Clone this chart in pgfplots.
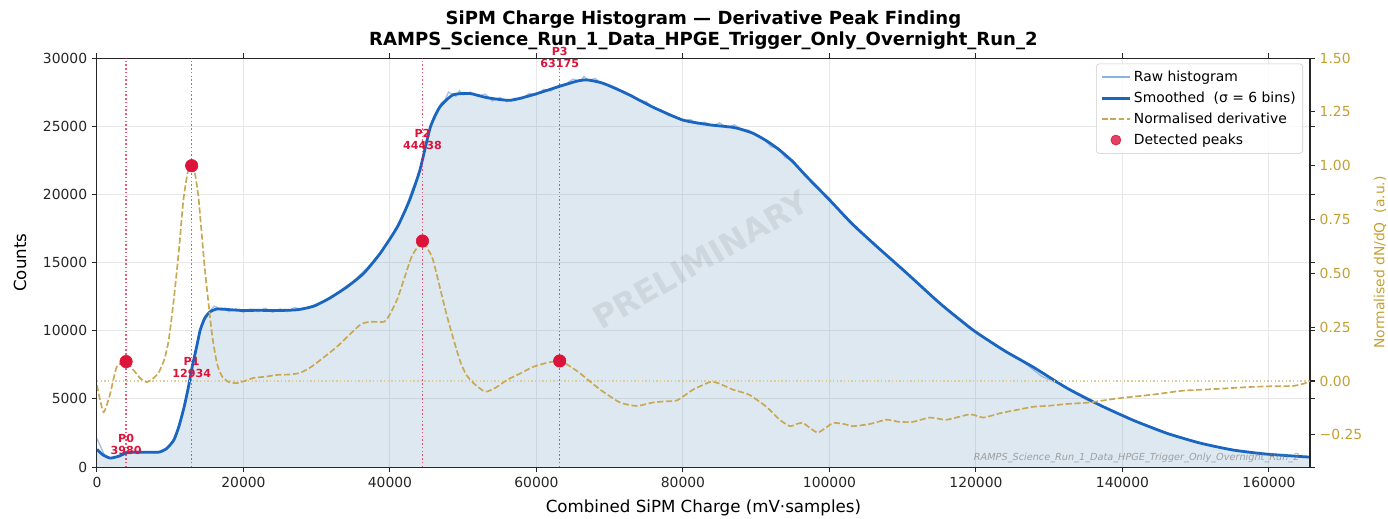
\documentclass[border=0pt]{standalone}
\usepackage{fontspec}
\setmainfont{DejaVu Sans}
\usepackage{pgfplots}
\usepackage{pgfplotstable}
\pgfplotsset{compat=1.18}

\definecolor{smoothblue}{RGB}{25,101,192}
\definecolor{rawblue}{RGB}{140,178,224}
\definecolor{histfill}{RGB}{70,130,180}
\definecolor{deriv}{RGB}{200,168,80}
\definecolor{derivtxt}{RGB}{196,160,50}
\definecolor{peak}{RGB}{220,20,60}

% smoothed histogram (counts)
\pgfplotstableread{
x y
0 1300
800 900
1800 660
3000 800
4100 1050
5500 1100
7000 1080
8500 1100
9500 1350
10500 1980
11200 3000
11900 4400
12500 5900
13000 7340
13600 8800
14100 10050
14700 10900
15400 11370
16400 11600
18000 11550
20000 11480
22000 11500
24000 11480
26000 11500
27500 11550
29600 11800
31800 12400
34100 13200
36400 14200
38700 15700
41000 17600
42700 19600
44100 21800
45500 24900
46800 26400
48600 27300
50900 27400
53200 27100
56400 26900
59500 27300
63000 27900
65500 28300
66900 28400
69100 28150
72300 27400
75900 26400
80000 25450
83700 25100
87000 24900
89500 24500
91500 23900
93200 23250
95000 22400
96900 21300
100000 19600
103000 17900
106000 16400
110600 14200
115100 12000
119600 10050
124000 8500
127800 7340
132400 5800
136900 4550
141400 3450
146000 2490
150600 1760
155100 1250
159700 950
165600 730
}\smoothtab

% raw histogram (counts)
\pgfplotstableread{
x y
0 2100
500 1500
1000 900
1500 700
2000 620
2500 700
3000 850
3500 950
4000 1000
5000 1150
6000 1050
7000 1100
8000 1050
9000 1150
9500 1400
10000 1600
10500 2100
11000 2700
11500 3600
12000 4600
12500 5800
13000 7500
13500 8500
14000 9900
14500 10600
15000 11100
15500 11500
16000 11800
16500 11700
17000 11500
17500 11650
18000 11400
19000 11600
20000 11350
21000 11600
22000 11400
23000 11650
24000 11350
25000 11600
26000 11400
27000 11700
28000 11550
29000 11750
30000 11950
31000 12150
32000 12500
33000 12800
34000 13250
35000 13600
36000 14150
37000 14650
38000 15250
39000 15950
40000 16700
41000 17700
42000 18700
43000 20300
44000 21600
45000 23900
46000 25700
47000 26700
47500 26900
48000 27500
49000 27200
49500 27600
50000 27300
51000 27500
52000 27200
53000 27350
54000 26850
55000 27100
56000 26800
57000 27050
58000 27000
59000 27400
60000 27300
61000 27700
62000 27600
63000 28000
64000 28100
65000 28450
66000 28300
66500 28650
67000 28350
68000 28500
69000 28100
70000 28000
71000 27800
72000 27400
73000 27300
74000 26900
75000 26800
76000 26300
77000 26200
78000 25800
79000 25700
80000 25400
81000 25500
82000 25150
83000 25300
84000 25000
85000 25250
86000 24900
87000 25100
88000 24800
89000 24700
90000 24300
91000 24100
92000 23500
93000 23400
94000 22700
95000 22500
96000 21800
97000 21300
98000 20700
99000 20200
100000 19700
102000 18350
104000 17300
106000 16450
108000 15400
110000 14550
112000 13500
114000 12550
116000 11600
118000 10800
120000 9900
123000 8800
126000 7900
129000 6650
132000 5950
135000 4950
138000 4300
141000 3500
144000 2950
147000 2300
150000 1850
153000 1450
156000 1200
159000 980
162000 850
165600 700
}\rawtab

% normalised derivative
\pgfplotstableread{
x y
0 -0.02
900 -0.145
1800 -0.06
2700 0.065
3980 0.09
5000 0.05
6000 0.01
6800 -0.005
7600 0.01
8400 0.037
9200 0.10
9800 0.19
10500 0.38
11200 0.61
11800 0.84
12400 0.97
12934 1.0
13400 0.96
13900 0.84
14700 0.53
15700 0.22
16400 0.08
17100 0.02
18000 -0.005
19100 -0.01
20200 0.0
21400 0.014
23000 0.02
24600 0.028
26200 0.03
27700 0.037
29000 0.06
30000 0.084
32800 0.16
35900 0.26
37300 0.275
39200 0.275
40000 0.31
41000 0.38
41900 0.47
43000 0.58
44438 0.65
45200 0.61
45900 0.56
47800 0.30
49500 0.10
50400 0.03
51400 -0.01
53000 -0.05
54500 -0.03
56000 0.005
57800 0.035
59500 0.065
61500 0.085
63175 0.093
64500 0.07
65900 0.037
68700 -0.04
71400 -0.10
73700 -0.116
75900 -0.10
77500 -0.095
79200 -0.09
81400 -0.04
83700 -0.005
84800 -0.01
86800 -0.04
87800 -0.05
89100 -0.065
91400 -0.12
93200 -0.18
94600 -0.21
95500 -0.20
96400 -0.195
97400 -0.22
98400 -0.24
99400 -0.22
100500 -0.195
102000 -0.20
103200 -0.21
105500 -0.20
107800 -0.18
109500 -0.19
111400 -0.19
113700 -0.17
116000 -0.18
119200 -0.155
121000 -0.17
123300 -0.15
125500 -0.135
127800 -0.12
130000 -0.115
132400 -0.107
135500 -0.10
137500 -0.09
139600 -0.08
143700 -0.065
146000 -0.055
148300 -0.045
152900 -0.037
157400 -0.028
160000 -0.025
163300 -0.023
165000 -0.01
165600 0.0
}\derivtab

% detected peaks (x, derivative value)
\pgfplotstableread{
x y
3980 0.09
12934 1.0
44438 0.65
63175 0.093
}\peaktab

\pgfplotsset{
  legend image code/.code={\draw[mark repeat=2,mark phase=2,#1] plot coordinates {(0pt,0pt) (10pt,0pt) (20pt,0pt)};},
}

\begin{document}
\begin{tikzpicture}
\begin{axis}[
    scale only axis, width=873.4pt, height=294.5pt,
    xmin=0, xmax=165600, ymin=0, ymax=30000,
    xtick={0,20000,...,160000},
    ytick={0,5000,...,30000},
    scaled ticks=false,
    /pgf/number format/fixed,
    /pgf/number format/set thousands separator={},
    /pgf/number format/assume math mode=true,
    tick align=outside, major tick length=3.5pt,
    tick style={black!85, line width=0.8pt},
    axis line style={black!85, line width=0.8pt},
    grid=major, grid style={black!9, line width=0.8pt},
    tick label style={font=\fontsize{10}{12}\selectfont, black!85},
    clip mode=individual,
]
\addplot[draw=none, fill=histfill, fill opacity=0.18, smooth, tension=0.35, forget plot] table {\smoothtab} \closedcycle;
\addplot[rawblue, line width=1pt, opacity=0.8, forget plot] table {\rawtab};
\addplot[smoothblue, line width=2pt, line join=round, smooth, tension=0.35, forget plot] table {\smoothtab};

% vertical markers at detected peaks
\addplot[peak, line width=1.1pt, dash pattern=on 1.1pt off 1.6pt, opacity=0.7, forget plot] coordinates {(3980,0) (3980,30000)};
\addplot[peak, line width=1.1pt, dash pattern=on 1.1pt off 1.6pt, opacity=0.7, forget plot] coordinates {(12934,0) (12934,30000)};
\addplot[peak, line width=1.1pt, dash pattern=on 1.1pt off 1.6pt, opacity=0.7, forget plot] coordinates {(44438,0) (44438,30000)};
\addplot[peak, line width=1.1pt, dash pattern=on 1.1pt off 1.6pt, opacity=0.7, forget plot] coordinates {(63175,0) (63175,30000)};

\node[peak, align=center, font=\bfseries\fontsize{8}{8.6}\selectfont] at (axis cs:3980,1690) {P0\\3980};
\node[peak, align=center, font=\bfseries\fontsize{8}{8.6}\selectfont] at (axis cs:12934,7335) {P1\\12934};
\node[peak, align=center, font=\bfseries\fontsize{8}{8.6}\selectfont] at (axis cs:44438,24060) {P2\\44438};
\node[peak, align=center, font=\bfseries\fontsize{8}{8.6}\selectfont] at (axis cs:63175,30070) {P3\\63175};

% watermark and run tag
\node[rotate=30, font=\bfseries\fontsize{23}{23}\selectfont, text=gray, opacity=0.17] at (axis cs:82450,15180) {PRELIMINARY};
\node[anchor=base east, font=\itshape\fontsize{7}{8}\selectfont, text=gray, opacity=0.7] at ([xshift=-4pt,yshift=5pt]rel axis cs:1,0) {RAMPS\_Science\_Run\_1\_Data\_HPGE\_Trigger\_Only\_Overnight\_Run\_2};

% titles and labels
\node[anchor=base, font=\bfseries\fontsize{13}{15.6}\selectfont] at ([yshift=24.5pt]rel axis cs:0.5,1) {SiPM Charge Histogram — Derivative Peak Finding};
\node[anchor=base, font=\bfseries\fontsize{13}{15.6}\selectfont] at ([yshift=9pt]rel axis cs:0.5,1) {RAMPS\_Science\_Run\_1\_Data\_HPGE\_Trigger\_Only\_Overnight\_Run\_2};
\node[font=\fontsize{12}{14}\selectfont] at ([yshift=-29.5pt]rel axis cs:0.5,0) {Combined SiPM Charge (mV·samples)};
\node[rotate=90, font=\fontsize{12}{14}\selectfont] at ([xshift=-55.4pt]rel axis cs:0,0.5) {Counts};
\node[rotate=90, text=derivtxt, font=\fontsize{10}{12}\selectfont] at ([xshift=50.4pt]rel axis cs:1,0.5) {Normalised dN/dQ\ \ (a.u.)};

\coordinate (sw) at (rel axis cs:0,0);
\end{axis}

\begin{axis}[
    scale only axis, width=873.4pt, height=294.5pt,
    xmin=0, xmax=165600, ymin=-0.40, ymax=1.5,
    axis x line=none, axis y line*=right,
    ytick={-0.25,0,0.25,0.5,0.75,1,1.25,1.5},
    yticklabels={−0.25,0.00,0.25,0.50,0.75,1.00,1.25,1.50},
    tick align=outside, major tick length=3.5pt,
    tick style={black!85, line width=0.8pt},
    axis line style={black!85, line width=0.8pt},
    yticklabel style={font=\fontsize{10}{12}\selectfont, text=derivtxt},
    clip mode=individual,
    legend style={at={([xshift=-5pt,yshift=-4pt]rel axis cs:1,1)}, anchor=north east,
        font=\fontsize{10}{12}\selectfont, draw=black!20, fill=white, fill opacity=0.8,
        text opacity=1, rounded corners=2pt, row sep=2pt, inner sep=3pt},
    legend cell align=left,
]
\addplot[deriv!60, line width=0.8pt, dash pattern=on 1pt off 1.65pt, forget plot] coordinates {(0,0) (165600,0)};

\addlegendimage{rawblue, line width=1pt}
\addlegendentry{Raw histogram}
\addlegendimage{smoothblue, line width=2pt}
\addlegendentry{Smoothed\ \ (σ = 6 bins)}

\addplot[deriv, line width=1.2pt, smooth, tension=0.35, dash pattern=on 4.4pt off 1.9pt, forget plot] table {\derivtab};
\addlegendimage{deriv, line width=1.3pt, dash pattern=on 4pt off 2pt}
\addlegendentry{Normalised derivative}

\addplot[only marks, mark=*, mark size=4.5pt, peak, forget plot] table {\peaktab};
\addlegendimage{only marks, mark=*, mark size=3.6pt, peak}
\addlegendentry{Detected peaks}
\end{axis}

\pgfresetboundingbox
\path[use as bounding box] ([xshift=-69.8pt,yshift=-36.7pt]sw) rectangle ([xshift=929.6pt,yshift=336.3pt]sw);
\end{tikzpicture}
\end{document}
